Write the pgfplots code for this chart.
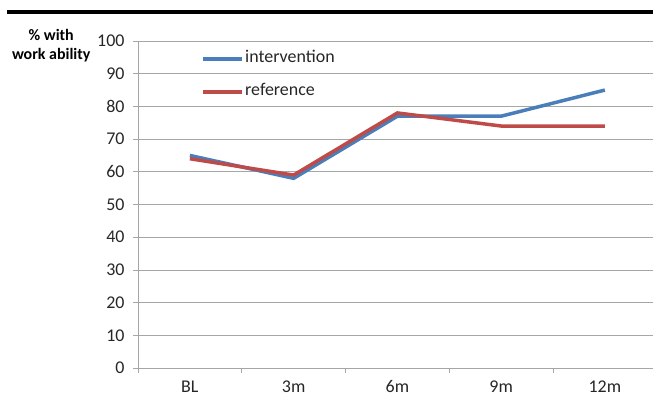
\documentclass[border=0pt]{standalone}
\usepackage{fontspec}
\setmainfont{Carlito}
\usepackage{pgfplots}
\pgfplotsset{compat=1.18}
\definecolor{exblue}{HTML}{4A7EBB}
\definecolor{exred}{HTML}{BE4B48}
\definecolor{gridgray}{HTML}{A6A6A6}
\begin{document}
\begin{tikzpicture}[x=1bp,y=1bp]
\path[use as bounding box] (0,0) rectangle (653,397);
\draw[line width=4.5bp] (7,385) -- (653,385);
\node[anchor=east, align=center, font=\bfseries\fontsize{16}{19}\selectfont] at (94,351) {\% with\\work ability};
\begin{axis}[
  at={(138bp,29bp)}, anchor=south west,
  scale only axis, width=515bp, height=327bp,
  xmin=-0.5, xmax=4.464, ymin=0, ymax=100,
  axis lines=left, axis line style={-, draw=gridgray, line width=0.8bp},
  ytick={0,10,...,100},
  xtick={0,1,2,3,4}, xticklabels={BL,3m,6m,9m,12m},
  minor xtick={-0.5,0.5,1.5,2.5,3.5},
  major x tick style={draw=none},
  minor x tick style={draw=gridgray, line width=0.8bp},
  minor tick length=5bp,
  major y tick style={draw=gridgray, line width=0.8bp},
  major tick length=5bp,
  tick align=outside,
  ymajorgrids, grid style={draw=gridgray, line width=0.8bp},
  tick label style={font=\fontsize{18}{20}\selectfont, text=black!85},
  /pgf/number format/assume math mode=true,
  xticklabel style={yshift=-4bp},
  yticklabel style={xshift=-5bp},
  legend style={at={(0.1223,0.97)}, anchor=north west, draw=none, fill=none,
    inner sep=0pt, row sep=17bp, font=\fontsize{18}{20}\selectfont, text=black!85,
    nodes={inner sep=1.5bp, text height=10bp, text depth=3bp}},
  legend cell align=left,
  legend image code/.code={\draw[#1] (0bp,0bp) -- (39bp,0bp);},
]
\addplot[exblue, line width=3.5bp] coordinates {(0,65) (1,58) (2,77) (3,77) (4,85)};
\addlegendentry{intervention}
\addplot[exred, line width=3.5bp] coordinates {(0,64) (1,59) (2,78) (3,74) (4,74)};
\addlegendentry{reference}
\end{axis}
\end{tikzpicture}
\end{document}
